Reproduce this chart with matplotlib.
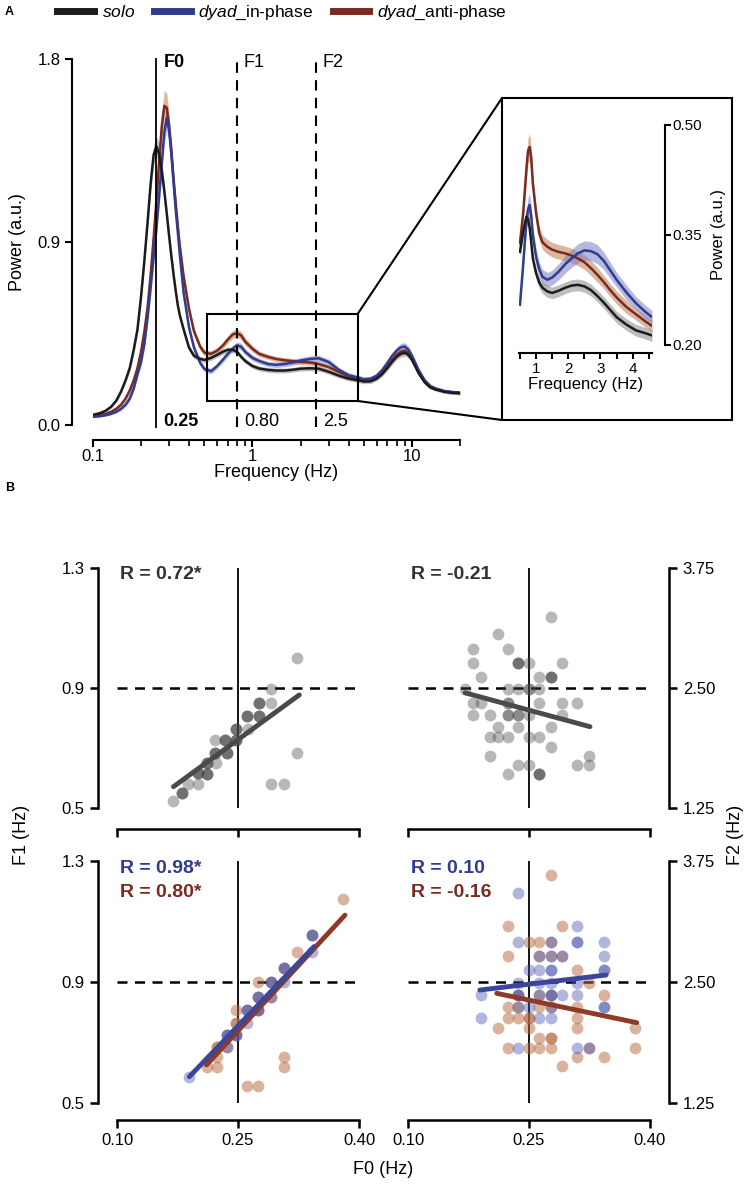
import numpy as np
import matplotlib
matplotlib.use("Agg")
from matplotlib import pyplot as plt
from matplotlib.patches import Rectangle, ConnectionPatch
from matplotlib.lines import Line2D

plt.rcParams['font.family'] = ['Liberation Sans', 'DejaVu Sans']
plt.rcParams['mathtext.fontset'] = 'custom'
plt.rcParams['mathtext.it'] = 'Liberation Sans:italic'
plt.rcParams['mathtext.rm'] = 'Liberation Sans'

# ---------------- panel A: power spectra ----------------
freq = [0.10, 0.11, 0.12, 0.13, 0.14, 0.15, 0.16, 0.17, 0.18, 0.19, 0.20, 0.21, 0.22, 0.23, 0.24, 0.25,
        0.26, 0.27, 0.28, 0.29, 0.30, 0.31, 0.32, 0.33, 0.34, 0.35, 0.37, 0.40, 0.43, 0.47, 0.50,
        0.55, 0.60, 0.65, 0.70, 0.75, 0.80, 0.85, 0.90,
        1.0, 1.1, 1.25, 1.4, 1.6, 1.8, 2.0, 2.3, 2.6, 3.0, 3.5, 4.0, 4.5,
        5.0, 5.5, 6.0, 6.5, 7.0, 7.5, 8.0, 8.5, 9.0, 9.5, 10.0,
        11.0, 12.0, 13.0, 14.0, 16.0, 18.0, 20.0]

solo_pow = [0.05, 0.058, 0.07, 0.09, 0.12, 0.165, 0.22, 0.28, 0.37, 0.47, 0.63, 0.81, 1.00, 1.19, 1.33, 1.37,
            1.33, 1.25, 1.15, 1.04, 0.93, 0.83, 0.74, 0.66, 0.59, 0.54, 0.47, 0.38, 0.34, 0.325, 0.32,
            0.33, 0.345, 0.36, 0.37, 0.37, 0.36, 0.335, 0.315,
            0.29, 0.278, 0.271, 0.268, 0.268, 0.272, 0.277, 0.279, 0.277, 0.262, 0.242, 0.228, 0.221,
            0.214, 0.215, 0.228, 0.25, 0.28, 0.31, 0.335, 0.35, 0.355, 0.345, 0.32,
            0.255, 0.21, 0.185, 0.175, 0.163, 0.158, 0.156]
solo_se = [0.004, 0.005, 0.006, 0.007, 0.009, 0.012, 0.015, 0.018, 0.022, 0.025, 0.03, 0.035, 0.04, 0.045, 0.05, 0.05,
           0.05, 0.045, 0.04, 0.035, 0.03, 0.028, 0.025, 0.023, 0.02, 0.019, 0.018, 0.015, 0.014, 0.013, 0.012,
           0.012, 0.012, 0.013, 0.013, 0.013, 0.013, 0.012, 0.012,
           0.012, 0.012, 0.012, 0.012, 0.012, 0.012, 0.012, 0.012, 0.012, 0.012, 0.011, 0.011, 0.011,
           0.011, 0.011, 0.011, 0.012, 0.013, 0.014, 0.015, 0.016, 0.016, 0.015, 0.014,
           0.012, 0.01, 0.009, 0.008, 0.008, 0.008, 0.008]

inph_pow = [0.04, 0.043, 0.048, 0.055, 0.065, 0.08, 0.10, 0.13, 0.18, 0.25, 0.31, 0.40, 0.53, 0.68, 0.83, 0.97,
            1.13, 1.29, 1.44, 1.51, 1.45, 1.33, 1.19, 1.06, 0.95, 0.84, 0.65, 0.48, 0.38, 0.305, 0.275,
            0.265, 0.29, 0.32, 0.35, 0.375, 0.392, 0.385, 0.36,
            0.33, 0.315, 0.30, 0.296, 0.30, 0.308, 0.317, 0.325, 0.328, 0.31, 0.27, 0.245, 0.235,
            0.225, 0.228, 0.242, 0.27, 0.305, 0.34, 0.365, 0.382, 0.386, 0.37, 0.34,
            0.27, 0.22, 0.192, 0.18, 0.167, 0.162, 0.16]
inph_se = [0.004, 0.004, 0.005, 0.005, 0.006, 0.008, 0.01, 0.012, 0.015, 0.018, 0.022, 0.026, 0.03, 0.035, 0.04, 0.045,
           0.05, 0.055, 0.06, 0.06, 0.055, 0.05, 0.045, 0.04, 0.035, 0.03, 0.025, 0.02, 0.017, 0.014, 0.013,
           0.013, 0.013, 0.014, 0.015, 0.016, 0.017, 0.016, 0.015,
           0.014, 0.013, 0.013, 0.013, 0.013, 0.014, 0.014, 0.015, 0.015, 0.014, 0.013, 0.012, 0.012,
           0.012, 0.012, 0.013, 0.014, 0.015, 0.016, 0.018, 0.019, 0.019, 0.018, 0.016,
           0.013, 0.011, 0.01, 0.009, 0.008, 0.008, 0.008]

anti_pow = [0.045, 0.05, 0.055, 0.065, 0.08, 0.10, 0.13, 0.17, 0.22, 0.28, 0.36, 0.46, 0.58, 0.74, 0.92, 1.11,
            1.30, 1.47, 1.57, 1.56, 1.47, 1.35, 1.21, 1.09, 0.98, 0.88, 0.73, 0.57, 0.46, 0.385, 0.355,
            0.35, 0.365, 0.39, 0.42, 0.445, 0.452, 0.44, 0.41,
            0.375, 0.35, 0.335, 0.325, 0.318, 0.314, 0.311, 0.307, 0.300, 0.285, 0.26, 0.24, 0.228,
            0.22, 0.222, 0.235, 0.26, 0.29, 0.32, 0.345, 0.36, 0.365, 0.355, 0.33,
            0.262, 0.215, 0.19, 0.178, 0.165, 0.16, 0.158]
anti_se = [0.004, 0.004, 0.005, 0.006, 0.007, 0.009, 0.011, 0.014, 0.017, 0.02, 0.025, 0.03, 0.035, 0.04, 0.05, 0.055,
           0.06, 0.07, 0.075, 0.07, 0.06, 0.055, 0.05, 0.045, 0.04, 0.035, 0.03, 0.022, 0.019, 0.016, 0.015,
           0.015, 0.016, 0.017, 0.018, 0.02, 0.02, 0.019, 0.018,
           0.016, 0.014, 0.013, 0.013, 0.013, 0.013, 0.013, 0.013, 0.013, 0.012, 0.012, 0.011, 0.011,
           0.011, 0.011, 0.012, 0.013, 0.014, 0.015, 0.016, 0.017, 0.017, 0.016, 0.015,
           0.012, 0.01, 0.009, 0.008, 0.008, 0.008, 0.008]

# inset (zoom 0.5 - 4.5 Hz)
in_freq = [0.5, 0.6, 0.7, 0.75, 0.8, 0.85, 0.9, 1.0, 1.1, 1.2, 1.35, 1.5, 1.7, 1.9, 2.1, 2.3, 2.5,
           2.7, 2.9, 3.1, 3.3, 3.5, 3.8, 4.1, 4.4, 4.6]
in_solo = [0.327, 0.355, 0.375, 0.372, 0.36, 0.34, 0.318, 0.298, 0.285, 0.278, 0.273, 0.271, 0.274,
           0.278, 0.281, 0.282, 0.280, 0.275, 0.267, 0.258, 0.248, 0.238, 0.228, 0.220, 0.216, 0.213]
in_inph = [0.255, 0.31, 0.37, 0.385, 0.391, 0.375, 0.35, 0.32, 0.303, 0.293, 0.289, 0.292, 0.300,
           0.31, 0.318, 0.325, 0.329, 0.328, 0.324, 0.315, 0.302, 0.289, 0.272, 0.257, 0.245, 0.238]
in_anti = [0.339, 0.38, 0.44, 0.465, 0.47, 0.455, 0.42, 0.38, 0.352, 0.340, 0.334, 0.330, 0.327,
           0.325, 0.322, 0.318, 0.313, 0.305, 0.296, 0.286, 0.275, 0.265, 0.252, 0.242, 0.232, 0.226]
in_solo_se = [0.008, 0.009, 0.01, 0.01, 0.01, 0.009, 0.008, 0.008, 0.008, 0.008, 0.008, 0.008, 0.008,
              0.008, 0.008, 0.008, 0.008, 0.008, 0.008, 0.008, 0.008, 0.008, 0.008, 0.008, 0.008, 0.008]
in_inph_se = [0.008, 0.01, 0.014, 0.016, 0.016, 0.014, 0.012, 0.011, 0.01, 0.01, 0.01, 0.01, 0.011,
              0.012, 0.012, 0.013, 0.013, 0.013, 0.013, 0.012, 0.011, 0.01, 0.01, 0.009, 0.009, 0.009]
in_anti_se = [0.008, 0.011, 0.015, 0.018, 0.018, 0.016, 0.013, 0.011, 0.01, 0.01, 0.01, 0.01, 0.01,
              0.01, 0.01, 0.01, 0.01, 0.01, 0.01, 0.009, 0.009, 0.009, 0.009, 0.008, 0.008, 0.008]

formant_freq = [0.25, 0.80, 2.5]
formant_names = ['F0', 'F1', 'F2']
formant_labels = ['0.25', '0.80', '2.5']

# ---------------- panel B: scatter F0 vs F1/F2 ----------------
solo_f0_1 = [0.3235, 0.291, 0.291, 0.276, 0.2616, 0.276, 0.2475, 0.262, 0.2475, 0.234, 0.222, 0.222,
             0.236, 0.211, 0.223, 0.200, 0.212, 0.188, 0.200, 0.180, 0.170, 0.3235, 0.291, 0.307]
solo_f1 = [0.999, 0.897, 0.851, 0.851, 0.807, 0.807, 0.762, 0.762, 0.727, 0.727, 0.727, 0.684,
           0.684, 0.649, 0.649, 0.618, 0.613, 0.58, 0.58, 0.551, 0.523, 0.684, 0.58, 0.58]
solo_n1 = [1, 1, 1, 3, 3, 3, 3, 1, 3, 3, 1, 3, 3, 3, 1, 3, 3, 1, 1, 3, 1, 1, 1, 1]

solo_f0_2 = [0.277, 0.212, 0.181, 0.2236, 0.181, 0.236, 0.2495, 0.291, 0.1905, 0.263, 0.277,
             0.1707, 0.2236, 0.236, 0.2495, 0.263, 0.181, 0.1905, 0.2236, 0.263, 0.291, 0.3095,
             0.181, 0.2016, 0.2236, 0.236, 0.2495, 0.291, 0.212, 0.236, 0.277,
             0.2016, 0.212, 0.2236, 0.2495, 0.263, 0.277, 0.2016, 0.3247,
             0.236, 0.2495, 0.3095, 0.3247, 0.2236, 0.263]
solo_f2 = [3.24, 3.06, 2.91, 2.91, 2.757, 2.757, 2.757, 2.757, 2.618, 2.618, 2.618,
           2.486, 2.486, 2.486, 2.486, 2.486, 2.347, 2.347, 2.347, 2.347, 2.347, 2.347,
           2.219, 2.219, 2.219, 2.219, 2.219, 2.219, 2.097, 2.097, 2.097,
           1.993, 1.993, 1.993, 1.993, 1.993, 1.889, 1.79, 1.79,
           1.698, 1.698, 1.698, 1.698, 1.604, 1.604]
solo_n2 = [1, 1, 1, 1, 1, 3, 1, 1, 1, 1, 3,
           1, 1, 1, 2, 1, 1, 1, 2, 1, 1, 1,
           1, 1, 2, 2, 1, 1, 1, 1, 1,
           1, 1, 1, 1, 1, 1, 1, 1,
           1, 1, 1, 1, 1, 3]

inph_f0_1 = [0.1897, 0.236, 0.236, 0.248, 0.2617, 0.2617, 0.2752, 0.2752, 0.291, 0.291, 0.3074, 0.3074, 0.3413, 0.3413]
inph_f1 = [0.587, 0.686, 0.725, 0.725, 0.807, 0.765, 0.807, 0.851, 0.901, 0.851, 0.947, 0.901, 1.055, 1.0]
inph_n1 = [1, 1, 2, 2, 2, 1, 2, 2, 2, 1, 2, 1, 2, 1]
anti_f0_1 = [0.211, 0.2236, 0.2236, 0.2236, 0.236, 0.236, 0.248, 0.248, 0.248, 0.2617, 0.2752, 0.2752,
             0.2752, 0.291, 0.291, 0.3074, 0.3235, 0.3413, 0.3797, 0.2617, 0.2752, 0.3074, 0.3074]
anti_f1 = [0.620, 0.620, 0.651, 0.686, 0.686, 0.725, 0.725, 0.765, 0.807, 0.807, 0.807, 0.851,
           0.901, 0.901, 0.851, 0.947, 1.0, 1.055, 1.173, 0.556, 0.556, 0.651, 0.620]
anti_n1 = [1, 1, 1, 2, 1, 1, 1, 2, 1, 1, 1, 1, 1, 1, 1, 1, 1, 1, 1, 1, 1, 1, 1]

inph_f0_2 = [0.236, 0.3095, 0.236, 0.277, 0.3095, 0.343, 0.263, 0.277, 0.291, 0.343,
             0.2495, 0.263, 0.277, 0.343, 0.236, 0.263, 0.277, 0.3095,
             0.1905, 0.236, 0.263, 0.277, 0.291, 0.3095, 0.236, 0.2495, 0.277, 0.343,
             0.1905, 0.263, 0.277, 0.236, 0.3095, 0.3247]
inph_f2 = [3.416, 3.079, 2.917, 2.917, 2.917, 2.917, 2.769, 2.769, 2.769, 2.769,
           2.624, 2.624, 2.624, 2.624, 2.487, 2.487, 2.487, 2.487,
           2.366, 2.366, 2.366, 2.366, 2.366, 2.366, 2.239, 2.239, 2.239, 2.239,
           2.125, 2.125, 2.125, 1.815, 1.815, 1.815]
inph_n2 = [1, 1, 1, 1, 2, 1, 1, 1, 1, 1,
           1, 1, 2, 2, 1, 1, 1, 1,
           1, 2, 1, 2, 1, 1, 1, 1, 1, 2,
           1, 1, 1, 1, 1, 1]
anti_f0_2 = [0.277, 0.2236, 0.291, 0.2495, 0.263, 0.277, 0.2236, 0.263, 0.277, 0.291,
             0.3095, 0.3247, 0.236, 0.263, 0.277, 0.343, 0.2236, 0.236, 0.263, 0.277, 0.3095,
             0.2236, 0.236, 0.2495, 0.3095, 0.212, 0.2495, 0.3095, 0.3814, 0.263, 0.277,
             0.2236, 0.2495, 0.263, 0.277, 0.3247, 0.3814, 0.3095, 0.343, 0.291]
anti_f2 = [3.605, 3.079, 3.079, 2.917, 2.917, 2.917, 2.769, 2.769, 2.769, 2.769,
           2.624, 2.487, 2.366, 2.366, 2.366, 2.366, 2.239, 2.239, 2.239, 2.239, 2.239,
           2.125, 2.125, 2.125, 2.125, 2.022, 2.022, 2.022, 2.022, 1.918, 1.918,
           1.815, 1.815, 1.815, 1.815, 1.815, 1.815, 1.722, 1.722, 1.632]
anti_n2 = [1, 1, 1, 1, 1, 1, 1, 1, 1, 1,
           1, 1, 1, 1, 1, 1, 1, 1, 1, 1, 1,
           1, 1, 2, 1, 1, 1, 1, 1, 1, 2,
           1, 1, 1, 1, 1, 1, 1, 1, 1]

# regression lines (end points)
solo_fit1 = ([0.170, 0.326], [0.571, 0.877])
solo_fit2 = ([0.1707, 0.3256], [2.45, 2.097])
inph_fit1 = ([0.1897, 0.3442], [0.587, 1.017])
anti_fit1 = ([0.211, 0.3826], [0.626, 1.121])
inph_fit2 = ([0.189, 0.3455], [2.417, 2.572])
anti_fit2 = ([0.21, 0.3835], [2.383, 2.08])

r_solo = ['R = 0.72*', 'R = -0.21']
r_inph = ['R = 0.98*', 'R = 0.10']
r_anti = ['R = 0.80*', 'R = -0.16']

# colours
SOLO, SOLO_BAND = '#1c1c1c', '#8a8a8a'
INPH, INPH_BAND = '#2f3c8f', '#7880c4'
ANTI, ANTI_BAND = '#7a2a20', '#c47d55'
SOLO_DOT, INPH_DOT, ANTI_DOT = '#444444', '#4451ad', '#b5683f'
SOLO_FIT, INPH_FIT, ANTI_FIT = '#4a4a4a', '#3b4699', '#8e3a26'

W, H = 747, 1185
fig = plt.figure(figsize=(W / 100, H / 100), dpi=100)


def fx(px):
    return px / W


def fy(py):
    return 1 - py / H


# ---- main spectrum ----
axA = fig.add_axes([fx(93), fy(425), 367 / W, 366 / H])
for pw, se, c, bc in [(anti_pow, anti_se, ANTI, ANTI_BAND),
                      (inph_pow, inph_se, INPH, INPH_BAND),
                      (solo_pow, solo_se, SOLO, SOLO_BAND)]:
    pw, se = np.array(pw), np.array(se)
    axA.fill_between(freq, pw - se, pw + se, color=bc, alpha=0.55, lw=0)
    axA.plot(freq, pw, color=c, lw=1.8)

axA.set_xscale('log')
axA.set_xlim(0.1, 20)
axA.set_ylim(0, 1.8)
axA.set_yticks([0, 0.9, 1.8])
axA.set_yticklabels(['0.0', '0.9', '1.8'])
axA.set_xticks([0.1, 1, 10])
axA.set_xticklabels(['0.1', '1', '10'])
for s in ['top', 'right']:
    axA.spines[s].set_visible(False)
axA.spines['left'].set_position(('outward', 15))
axA.spines['bottom'].set_position(('outward', 11))
axA.spines['left'].set_bounds(0, 1.8)
axA.spines['bottom'].set_bounds(0.1, 20)
for s in ['left', 'bottom']:
    axA.spines[s].set_linewidth(1.5)
axA.tick_params(which='major', width=1.5, length=5, labelsize=12)
axA.tick_params(axis='x', which='major', pad=1)
axA.tick_params(which='minor', width=1.2, length=4)
axA.set_xlabel('Frequency (Hz)', fontsize=13, labelpad=0)
axA.set_ylabel('Power (a.u.)', fontsize=13, labelpad=8)

for i, f in enumerate(formant_freq):
    ls = '-' if i == 0 else (0, (5, 3.5))
    lw = 1.3 if i == 0 else 1.5
    axA.plot([f, f], [-0.01, 1.8], color='black', lw=lw, linestyle=ls, clip_on=False)
    fw = 'bold' if i == 0 else 'normal'
    axA.annotate(formant_names[i], (f, 1.785), xytext=(5, 0), textcoords='offset points',
                 ha='left', va='center', fontsize=13, fontweight=fw)
    axA.annotate(formant_labels[i], (f, 0.015), xytext=(5, 0), textcoords='offset points',
                 ha='left', va='center', fontsize=13, fontweight=fw)

# zoom box and connectors
zoom_box = (0.52, 0.118, 4.57, 0.547)
axA.add_patch(Rectangle((zoom_box[0], zoom_box[1]), zoom_box[2] - zoom_box[0], zoom_box[3] - zoom_box[1],
                        fill=False, lw=1.5, color='black', zorder=5))
frame = Rectangle((fx(502), fy(420)), 230 / W, 322 / H, transform=fig.transFigure,
                  fill=False, lw=1.5, color='black')
fig.add_artist(frame)
for yA, pyB in [(zoom_box[3], 98), (zoom_box[1], 420)]:
    con = ConnectionPatch(xyA=(zoom_box[2], yA), coordsA=axA.transData,
                          xyB=(fx(502), fy(pyB)), coordsB=fig.transFigure, lw=1.5, color='black')
    fig.add_artist(con)

# ---- inset ----
axI = fig.add_axes([fx(519), fy(345), 133 / W, 220 / H])
for pw, se, c, bc in [(in_anti, in_anti_se, ANTI, ANTI_BAND),
                      (in_inph, in_inph_se, INPH, INPH_BAND),
                      (in_solo, in_solo_se, SOLO, SOLO_BAND)]:
    pw, se = np.array(pw), np.array(se)
    axI.fill_between(in_freq, pw - se, pw + se, color=bc, alpha=0.55, lw=0)
    axI.plot(in_freq, pw, color=c, lw=1.8)
axI.set_xlim(0.47, 4.6)
axI.set_ylim(0.2, 0.5)
axI.set_xticks([1, 2, 3, 4])
axI.set_xticks([0.5, 1.5, 2.5, 3.5, 4.5], minor=True)
axI.set_yticks([0.2, 0.35, 0.5])
axI.set_yticklabels(['0.20', '0.35', '0.50'])
axI.yaxis.tick_right()
axI.yaxis.set_label_position('right')
for s in ['top', 'left']:
    axI.spines[s].set_visible(False)
axI.spines['right'].set_position(('outward', 9))
axI.spines['bottom'].set_position(('outward', 6))
axI.spines['right'].set_bounds(0.2, 0.5)
axI.spines['bottom'].set_bounds(0.47, 4.6)
for s in ['right', 'bottom']:
    axI.spines[s].set_linewidth(1.5)
axI.tick_params(which='both', width=1.5, length=4, labelsize=11, pad=2)
axI.set_xlabel('Frequency (Hz)', fontsize=12, labelpad=1)
axI.set_ylabel('Power (a.u.)', fontsize=12, labelpad=6)

# ---- panel B ----
cols = [fx(117), fx(408)]
rows = [fy(808), fy(1103)]


def dots(ax, x, y, n, color, alpha):
    ax.scatter(np.repeat(x, n), np.repeat(y, n), s=72, color=color, alpha=alpha, lw=0,
               clip_on=False, zorder=2)


def style_b(ax, right, top):
    ax.set_xlim(0.1, 0.4)
    ax.set_xticks([0.10, 0.25, 0.40])
    ax.axvline(0.25, color='black', lw=1.3, zorder=1)
    ax.spines['top'].set_visible(False)
    side = 'right' if right else 'left'
    other = 'left' if right else 'right'
    ax.spines[other].set_visible(False)
    ax.spines[side].set_position(('outward', 14))
    ax.spines['bottom'].set_position(('outward', 15 if top else 12))
    for s in [side, 'bottom']:
        ax.spines[s].set_linewidth(1.8)
    if right:
        ax.yaxis.tick_right()
        ax.set_ylim(1.25, 3.75)
        ax.set_yticks([1.25, 2.5, 3.75])
        ax.set_yticklabels(['1.25', '2.50', '3.75'])
        ax.axhline(2.5, color='black', lw=1.8, linestyle=(0, (4, 3)), zorder=1)
    else:
        ax.set_ylim(0.5, 1.3)
        ax.set_yticks([0.5, 0.9, 1.3])
        ax.set_yticklabels(['0.5', '0.9', '1.3'])
        ax.axhline(0.9, color='black', lw=1.8, linestyle=(0, (4, 3)), zorder=1)
    ax.tick_params(width=1.8, length=6, labelsize=12)
    if top:
        ax.set_xticklabels([])
    else:
        ax.set_xticklabels(['0.10', '0.25', '0.40'])


ax1 = fig.add_axes([cols[0], rows[0], 242 / W, 240 / H])
ax2 = fig.add_axes([cols[1], rows[0], 242 / W, 240 / H])
ax3 = fig.add_axes([cols[0], rows[1], 242 / W, 242 / H])
ax4 = fig.add_axes([cols[1], rows[1], 242 / W, 242 / H])

dots(ax1, solo_f0_1, solo_f1, solo_n1, SOLO_DOT, 0.38)
ax1.plot(*solo_fit1, color=SOLO_FIT, lw=3.5, solid_capstyle='round', zorder=3)
dots(ax2, solo_f0_2, solo_f2, solo_n2, SOLO_DOT, 0.38)
ax2.plot(*solo_fit2, color=SOLO_FIT, lw=3.5, solid_capstyle='round', zorder=3)

dots(ax3, anti_f0_1, anti_f1, anti_n1, ANTI_DOT, 0.5)
dots(ax3, inph_f0_1, inph_f1, inph_n1, INPH_DOT, 0.42)
ax3.plot(*anti_fit1, color=ANTI_FIT, lw=3.5, solid_capstyle='round', zorder=3)
ax3.plot(*inph_fit1, color=INPH_FIT, lw=3.5, solid_capstyle='round', zorder=3)

dots(ax4, anti_f0_2, anti_f2, anti_n2, ANTI_DOT, 0.5)
dots(ax4, inph_f0_2, inph_f2, inph_n2, INPH_DOT, 0.42)
ax4.plot(*inph_fit2, color=INPH_FIT, lw=3.5, solid_capstyle='round', zorder=3)
ax4.plot(*anti_fit2, color=ANTI_FIT, lw=3.5, solid_capstyle='round', zorder=3)

style_b(ax1, False, True)
style_b(ax2, True, True)
style_b(ax3, False, False)
style_b(ax4, True, False)

for ax, txt in [(ax1, r_solo[0]), (ax2, r_solo[1])]:
    ax.text(0.012, 0.975, txt, transform=ax.transAxes, fontsize=14, fontweight='bold',
            color='#333333', ha='left', va='center')
for ax, t1, t2 in [(ax3, r_inph[0], r_anti[0]), (ax4, r_inph[1], r_anti[1])]:
    ax.text(0.012, 0.967, t1, transform=ax.transAxes, fontsize=14, fontweight='bold',
            color=INPH, ha='left', va='center')
    ax.text(0.012, 0.868, t2, transform=ax.transAxes, fontsize=14, fontweight='bold',
            color=ANTI, ha='left', va='center')

fig.text(fx(22), fy(835), 'F1 (Hz)', rotation=90, ha='center', va='center', fontsize=13)
fig.text(fx(735), fy(835), 'F2 (Hz)', rotation=90, ha='center', va='center', fontsize=13)
fig.text(fx(383), fy(1170), 'F0 (Hz)', ha='center', va='center', fontsize=13)

fig.text(fx(5), fy(12), 'A', fontsize=9, fontweight='bold', ha='left', va='center')
fig.text(fx(5), fy(488), 'B', fontsize=9, fontweight='bold', ha='left', va='center')

# legend
handles = [Line2D([], [], color=SOLO, lw=5),
           Line2D([], [], color=INPH, lw=5),
           Line2D([], [], color=ANTI, lw=5)]
labels = [r'$\mathit{solo}$', r'$\mathit{dyad}$_in-phase', r'$\mathit{dyad}$_anti-phase']
fig.legend(handles, labels, loc='center', bbox_to_anchor=(fx(282), fy(13)), ncol=3,
           frameon=False, fontsize=12.5, handlelength=2.1, handletextpad=0.45, columnspacing=1.1,
           borderpad=0)

fig.savefig('out.png', dpi=100)
